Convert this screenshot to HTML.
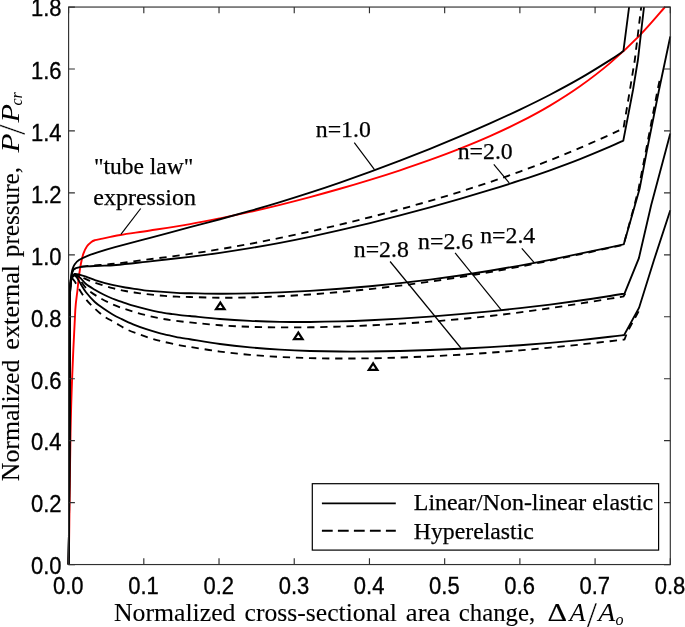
<!DOCTYPE html>
<html><head><meta charset="utf-8"><title>Normalized external pressure vs area change</title>
<style>
html,body{margin:0;padding:0;background:#fff;}
svg{display:block;}
.s{fill:none;stroke:#000;stroke-width:1.85;stroke-linejoin:miter;}
.d{fill:none;stroke:#000;stroke-width:1.85;stroke-dasharray:7.3 5.8;}
.r{fill:none;stroke:#f00;stroke-width:1.9;}
.t{fill:#fff;stroke:#000;stroke-width:2.2;stroke-linejoin:miter;}
.ax{fill:none;stroke:#303030;stroke-width:1.15;}
.ld{fill:none;stroke:#000;stroke-width:1.2;}
.tk text{font-family:"Liberation Sans",sans-serif;font-size:22px;fill:#000;stroke:#000;stroke-width:.3;}
.lb text{font-family:"Liberation Serif",serif;font-size:23.8px;fill:#000;stroke:#000;stroke-width:.25;}
.ti text{font-family:"Liberation Serif",serif;font-size:25.2px;fill:#000;stroke:#000;stroke-width:.12;}
.ti text.it{font-style:italic;stroke:none;}
</style></head>
<body>
<svg width="685" height="627" viewBox="0 0 685 627">
<rect x="0" y="0" width="685" height="627" fill="#fff"/>
<g id="curves">
<path class="r" d="M68.80 564.50 C68.93 553.75 69.32 521.75 69.60 500.00 C69.88 478.25 70.08 454.20 70.50 434.00 C70.92 413.80 71.30 399.47 72.10 378.80 C72.90 358.13 74.40 324.80 75.30 310.00 C75.86 300.87 76.93 295.27 77.50 290.00 C78.07 284.73 78.13 282.77 78.70 278.40 C79.27 274.03 80.12 267.93 80.90 263.80 C81.68 259.67 82.38 256.52 83.40 253.60 C84.42 250.68 85.67 248.25 87.00 246.30 C88.33 244.35 90.07 242.92 91.40 241.90 C92.73 240.88 93.40 240.70 95.00 240.20 C96.60 239.70 98.27 239.46 101.00 238.90 C105.22 238.03 112.12 236.40 120.30 235.00 C128.48 233.60 138.48 232.32 150.10 230.50 C161.72 228.68 178.35 226.13 190.00 224.10 C201.65 222.08 210.00 220.37 220.00 218.33 C230.00 216.30 240.00 214.15 250.00 211.90 C260.00 209.65 270.00 207.28 280.00 204.81 C290.00 202.34 300.00 199.75 310.00 197.08 C320.00 194.41 330.00 191.65 340.00 188.78 C350.00 185.91 360.00 182.94 370.00 179.86 C380.00 176.78 390.00 173.61 400.00 170.29 C410.00 166.97 420.00 163.56 430.00 159.96 C440.00 156.35 450.00 152.64 460.00 148.67 C470.00 144.70 480.00 140.59 490.00 136.14 C500.00 131.69 510.00 127.06 520.00 121.96 C530.00 116.87 540.00 111.53 550.00 105.58 C560.00 99.63 570.00 93.33 580.00 86.26 C590.00 79.18 600.00 71.65 610.00 63.12 C620.00 54.59 630.83 44.42 640.00 35.07 C649.17 25.72 660.83 11.68 665.00 7.00"/>
<path class="s" d="M68.60 564.50 C68.67 558.25 68.89 541.08 69.00 527.00 C69.11 512.92 69.15 501.17 69.25 480.00 C69.35 458.83 69.49 431.17 69.60 400.00 C69.71 368.83 69.68 313.27 69.90 293.00 C69.97 286.35 70.48 282.30 70.90 278.40 C71.32 274.50 71.78 271.92 72.40 269.60 C73.02 267.28 73.50 266.08 74.60 264.50 C75.70 262.92 76.93 261.50 79.00 260.10 C81.07 258.70 83.92 257.38 87.00 256.10 C90.08 254.82 92.83 253.88 97.50 252.40 C102.17 250.92 107.00 249.41 115.00 247.20 C123.77 244.78 137.60 241.24 150.10 237.90 C162.60 234.56 178.35 230.29 190.00 227.19 C201.65 224.08 210.00 221.96 220.00 219.25 C230.00 216.54 240.00 213.79 250.00 210.92 C260.00 208.06 270.00 205.12 280.00 202.07 C290.00 199.02 300.00 195.88 310.00 192.62 C320.00 189.36 330.00 185.98 340.00 182.52 C350.00 179.05 360.00 175.48 370.00 171.83 C380.00 168.17 390.00 164.42 400.00 160.57 C410.00 156.73 420.00 152.80 430.00 148.77 C440.00 144.75 450.00 140.63 460.00 136.40 C470.00 132.17 480.00 127.85 490.00 123.38 C500.00 118.91 510.00 114.35 520.00 109.58 C530.00 104.80 540.00 99.93 550.00 94.73 C560.00 89.54 570.00 84.19 580.00 78.42 C590.00 72.65 602.77 64.66 610.00 60.11 C616.21 56.20 621.17 52.60 623.40 51.10 L629.10 7.00"/>
<path class="s" d="M68.60 564.50 C68.67 558.25 68.89 541.08 69.00 527.00 C69.11 512.92 69.15 501.17 69.25 480.00 C69.35 458.83 69.49 430.00 69.60 400.00 C69.71 370.00 69.73 319.67 69.90 300.00 C69.97 291.81 70.28 286.33 70.60 282.00 C70.87 278.33 71.35 276.00 71.80 274.00 C72.23 272.11 72.60 270.97 73.30 270.00 C74.00 269.03 74.88 268.68 76.00 268.20 C77.12 267.72 78.14 267.39 80.00 267.10 C82.00 266.78 84.67 266.52 88.00 266.30 C91.33 266.08 95.33 266.02 100.00 265.80 C104.67 265.58 108.75 265.65 116.00 265.00 C124.35 264.25 137.77 262.66 150.10 261.30 C162.43 259.94 178.35 258.24 190.00 256.82 C201.65 255.41 210.00 254.26 220.00 252.82 C230.00 251.37 240.00 249.82 250.00 248.15 C260.00 246.48 270.00 244.70 280.00 242.81 C290.00 240.92 300.00 238.92 310.00 236.83 C320.00 234.73 330.00 232.51 340.00 230.22 C350.00 227.94 360.00 225.55 370.00 223.09 C380.00 220.63 390.00 218.08 400.00 215.47 C410.00 212.86 420.00 210.17 430.00 207.41 C440.00 204.66 450.00 201.83 460.00 198.93 C470.00 196.02 480.00 193.05 490.00 189.98 C500.00 186.90 510.00 183.76 520.00 180.47 C530.00 177.19 540.00 173.82 550.00 170.26 C560.00 166.69 570.00 163.03 580.00 159.09 C590.00 155.16 602.78 149.72 610.00 146.64 C616.11 144.03 621.08 141.61 623.30 140.60 L633.00 90.00 L637.90 60.00 L644.00 7.00"/>
<path class="s" d="M68.60 564.50 C68.67 558.25 68.89 541.08 69.00 527.00 C69.11 512.92 69.15 501.17 69.25 480.00 C69.35 458.83 69.49 430.00 69.60 400.00 C69.71 370.00 69.73 319.33 69.90 300.00 C69.96 292.72 70.25 287.83 70.60 284.00 C70.90 280.77 71.33 278.67 72.00 277.00 C72.67 275.33 73.27 274.37 74.60 274.00 C75.93 273.63 78.10 274.37 80.00 274.80 C81.90 275.23 83.31 275.67 86.00 276.60 C89.18 277.70 94.72 280.02 99.10 281.40 C103.48 282.78 107.92 283.88 112.30 284.90 C116.68 285.92 121.03 286.75 125.40 287.50 C129.77 288.25 135.02 288.88 138.50 289.40 C141.98 289.92 142.73 290.28 146.30 290.60 C153.22 291.22 172.72 292.66 180.00 293.10 C184.54 293.37 185.45 293.17 190.00 293.24 C196.67 293.35 210.00 293.73 220.00 293.76 C230.00 293.79 240.00 293.65 250.00 293.43 C260.00 293.21 270.00 292.86 280.00 292.43 C290.00 292.01 300.00 291.49 310.00 290.88 C320.00 290.27 330.00 289.57 340.00 288.79 C350.00 288.01 360.00 287.16 370.00 286.22 C380.00 285.28 390.00 284.26 400.00 283.16 C410.00 282.05 420.00 280.86 430.00 279.58 C440.00 278.29 450.00 276.92 460.00 275.46 C470.00 273.99 480.00 272.42 490.00 270.78 C500.00 269.13 510.00 267.38 520.00 265.56 C530.00 263.74 540.00 261.82 550.00 259.85 C560.00 257.87 570.00 255.80 580.00 253.71 C590.00 251.61 602.70 248.86 610.00 247.29 C616.28 245.94 621.50 244.80 623.80 244.30 L635.00 205.00 L639.60 188.80 L647.00 150.00 L659.00 90.00 L670.30 36.50"/>
<path class="s" d="M68.60 564.50 C68.67 558.25 68.89 541.08 69.00 527.00 C69.11 512.92 69.15 501.17 69.25 480.00 C69.35 458.83 69.49 430.00 69.60 400.00 C69.71 370.00 69.73 319.33 69.90 300.00 C69.96 292.72 70.25 287.83 70.60 284.00 C70.90 280.77 71.27 278.58 72.00 277.00 C72.73 275.42 73.67 274.40 75.00 274.50 C76.33 274.60 78.17 276.02 80.00 277.60 C81.83 279.18 83.53 281.98 86.00 284.00 C88.47 286.02 91.88 287.95 94.80 289.70 C97.72 291.45 100.58 293.03 103.50 294.50 C106.42 295.97 109.38 297.32 112.30 298.50 C115.22 299.68 117.53 300.42 121.00 301.60 C124.47 302.78 128.88 304.33 133.10 305.60 C137.32 306.87 141.92 308.12 146.30 309.20 C150.68 310.28 155.03 311.28 159.40 312.10 C163.77 312.92 169.07 313.60 172.50 314.10 C175.90 314.60 177.08 314.78 180.00 315.10 C182.92 315.42 185.46 315.59 190.00 316.04 C196.67 316.68 210.00 318.19 220.00 318.99 C230.00 319.80 240.00 320.40 250.00 320.87 C260.00 321.34 270.00 321.63 280.00 321.81 C290.00 321.99 300.00 322.03 310.00 321.96 C320.00 321.89 330.00 321.69 340.00 321.41 C350.00 321.13 360.00 320.74 370.00 320.28 C380.00 319.82 390.00 319.27 400.00 318.66 C410.00 318.04 420.00 317.35 430.00 316.60 C440.00 315.85 450.00 315.03 460.00 314.15 C470.00 313.27 480.00 312.33 490.00 311.33 C500.00 310.33 510.00 309.27 520.00 308.14 C530.00 307.01 540.00 305.82 550.00 304.55 C560.00 303.28 570.00 301.96 580.00 300.53 C590.00 299.10 602.58 297.15 610.00 296.00 C616.60 294.97 622.08 294.00 624.50 293.60 L638.90 258.10 L651.20 205.00 L665.90 150.00 L670.30 133.40"/>
<path class="s" d="M68.60 564.50 C68.67 558.25 68.89 541.08 69.00 527.00 C69.11 512.92 69.15 501.17 69.25 480.00 C69.35 458.83 69.49 430.00 69.60 400.00 C69.71 370.00 69.73 319.33 69.90 300.00 C69.96 292.72 70.25 287.83 70.60 284.00 C70.90 280.77 71.35 278.50 72.00 277.00 C72.58 275.66 73.58 274.77 74.50 275.00 C75.42 275.23 76.42 276.82 77.50 278.40 C78.58 279.98 79.58 282.18 81.00 284.50 C82.42 286.82 83.70 289.38 86.00 292.30 C88.30 295.22 91.88 299.30 94.80 302.00 C97.72 304.70 100.58 306.47 103.50 308.50 C106.42 310.53 109.47 312.53 112.30 314.20 C115.13 315.87 117.03 316.80 120.50 318.50 C123.97 320.20 128.80 322.62 133.10 324.40 C137.40 326.18 141.92 327.75 146.30 329.20 C150.68 330.65 155.03 331.95 159.40 333.10 C163.77 334.25 169.07 335.33 172.50 336.10 C175.90 336.86 177.08 337.17 180.00 337.70 C182.92 338.23 185.45 338.56 190.00 339.27 C196.67 340.33 210.00 342.66 220.00 344.02 C230.00 345.37 240.00 346.45 250.00 347.39 C260.00 348.33 270.00 349.04 280.00 349.64 C290.00 350.23 300.00 350.65 310.00 350.96 C320.00 351.28 330.00 351.44 340.00 351.52 C350.00 351.61 360.00 351.57 370.00 351.48 C380.00 351.39 390.00 351.20 400.00 350.96 C410.00 350.72 420.00 350.40 430.00 350.03 C440.00 349.67 450.00 349.24 460.00 348.76 C470.00 348.29 480.00 347.76 490.00 347.17 C500.00 346.58 510.00 345.93 520.00 345.22 C530.00 344.51 540.00 343.74 550.00 342.88 C560.00 342.03 570.00 341.12 580.00 340.11 C590.00 339.09 602.63 337.64 610.00 336.79 C616.46 336.05 621.83 335.30 624.20 335.00 L639.10 307.70 L654.00 260.00 L670.30 210.30"/>
<path class="d" d="M69.90 300.00 C70.02 297.00 70.28 286.33 70.60 282.00 C70.87 278.33 71.35 276.03 71.80 274.00 C72.24 272.02 72.60 270.80 73.30 269.80 C74.00 268.80 74.88 268.48 76.00 268.00 C77.12 267.52 78.14 267.23 80.00 266.90 C82.00 266.55 84.67 266.22 88.00 265.90 C91.33 265.58 95.33 265.38 100.00 265.00 C104.67 264.62 108.75 264.44 116.00 263.60 C124.35 262.63 137.77 260.81 150.10 259.20 C162.43 257.59 178.35 255.59 190.00 253.92 C201.65 252.25 210.00 250.87 220.00 249.19 C230.00 247.51 240.00 245.71 250.00 243.83 C260.00 241.95 270.00 239.98 280.00 237.93 C290.00 235.88 300.00 233.74 310.00 231.53 C320.00 229.31 330.00 227.00 340.00 224.62 C350.00 222.24 360.00 219.78 370.00 217.23 C380.00 214.68 390.00 212.06 400.00 209.33 C410.00 206.61 420.00 203.80 430.00 200.89 C440.00 197.97 450.00 194.96 460.00 191.82 C470.00 188.69 480.00 185.45 490.00 182.08 C500.00 178.70 510.00 175.21 520.00 171.56 C530.00 167.92 540.00 164.15 550.00 160.21 C560.00 156.26 570.00 152.18 580.00 147.92 C590.00 143.66 602.75 137.90 610.00 134.63 C616.18 131.84 621.25 129.35 623.50 128.30 L629.90 90.00 L634.80 60.00 L641.20 7.00" stroke-dasharray="10 5.3"/>
<path class="d" d="M72.00 277.50 C72.43 277.08 73.27 275.17 74.60 275.00 C75.93 274.83 77.67 275.62 80.00 276.50 C82.33 277.38 85.27 278.98 88.60 280.30 C91.93 281.62 95.98 283.10 100.00 284.40 C104.02 285.70 108.47 287.00 112.70 288.10 C116.93 289.20 121.12 290.17 125.40 291.00 C129.68 291.83 134.05 292.50 138.40 293.10 C142.75 293.70 147.12 294.13 151.50 294.60 C155.88 295.07 160.47 295.55 164.70 295.90 C168.93 296.25 172.68 296.51 176.90 296.70 C181.12 296.89 184.05 296.88 190.00 297.02 C197.18 297.19 210.00 297.67 220.00 297.74 C230.00 297.80 240.00 297.66 250.00 297.41 C260.00 297.17 270.00 296.76 280.00 296.27 C290.00 295.79 300.00 295.19 310.00 294.48 C320.00 293.78 330.00 292.93 340.00 292.03 C350.00 291.13 360.00 290.13 370.00 289.06 C380.00 287.99 390.00 286.83 400.00 285.59 C410.00 284.35 420.00 283.03 430.00 281.62 C440.00 280.20 450.00 278.70 460.00 277.11 C470.00 275.52 480.00 273.84 490.00 272.08 C500.00 270.32 510.00 268.47 520.00 266.56 C530.00 264.65 540.00 262.65 550.00 260.60 C560.00 258.56 570.00 256.42 580.00 254.28 C590.00 252.14 602.73 249.34 610.00 247.76 C616.18 246.42 621.33 245.29 623.60 244.80 L634.50 205.00 L638.60 188.80 L645.50 153.00 L657.60 90.00 L660.50 76.00"/>
<path class="d" d="M72.00 277.50 C72.50 277.17 73.67 275.05 75.00 275.50 C76.33 275.95 77.95 277.90 80.00 280.20 C82.05 282.50 84.33 286.55 87.30 289.30 C90.27 292.05 94.15 294.45 97.80 296.70 C101.45 298.95 105.23 300.93 109.20 302.80 C113.17 304.67 117.47 306.38 121.60 307.90 C125.73 309.42 129.82 310.65 134.00 311.90 C138.18 313.15 142.47 314.35 146.70 315.40 C150.93 316.45 155.10 317.37 159.40 318.20 C163.70 319.03 167.40 319.70 172.50 320.40 C177.60 321.10 182.08 321.58 190.00 322.40 C197.92 323.21 210.00 324.53 220.00 325.26 C230.00 326.00 240.00 326.45 250.00 326.80 C260.00 327.15 270.00 327.30 280.00 327.39 C290.00 327.47 300.00 327.43 310.00 327.29 C320.00 327.15 330.00 326.87 340.00 326.55 C350.00 326.23 360.00 325.84 370.00 325.37 C380.00 324.90 390.00 324.37 400.00 323.75 C410.00 323.14 420.00 322.46 430.00 321.68 C440.00 320.91 450.00 320.06 460.00 319.11 C470.00 318.16 480.00 317.13 490.00 316.00 C500.00 314.87 510.00 313.65 520.00 312.34 C530.00 311.03 540.00 309.62 550.00 308.15 C560.00 306.69 570.00 305.12 580.00 303.54 C590.00 301.96 602.75 299.86 610.00 298.69 C616.14 297.70 621.25 296.86 623.50 296.50 L626.00 292.00"/>
<path class="d" d="M72.00 278.00 C72.43 278.55 73.57 279.69 74.60 281.30 C75.93 283.38 78.10 287.50 80.00 290.50 C81.90 293.50 83.77 296.52 86.00 299.30 C88.23 302.08 90.48 304.42 93.40 307.20 C96.32 309.98 99.92 313.45 103.50 316.00 C107.08 318.55 111.13 320.32 114.90 322.50 C118.67 324.68 122.18 327.18 126.10 329.10 C130.02 331.02 134.32 332.48 138.40 334.00 C142.48 335.52 146.45 336.92 150.60 338.20 C154.75 339.48 158.40 340.52 163.30 341.70 C168.20 342.88 175.55 344.43 180.00 345.30 C184.45 346.17 185.45 346.20 190.00 346.91 C196.67 347.96 210.00 350.26 220.00 351.58 C230.00 352.90 240.00 353.94 250.00 354.83 C260.00 355.73 270.00 356.40 280.00 356.95 C290.00 357.50 300.00 357.87 310.00 358.14 C320.00 358.40 330.00 358.50 340.00 358.53 C350.00 358.56 360.00 358.47 370.00 358.30 C380.00 358.14 390.00 357.87 400.00 357.55 C410.00 357.22 420.00 356.81 430.00 356.33 C440.00 355.86 450.00 355.31 460.00 354.71 C470.00 354.10 480.00 353.43 490.00 352.70 C500.00 351.97 510.00 351.18 520.00 350.33 C530.00 349.48 540.00 348.57 550.00 347.61 C560.00 346.65 570.00 345.63 580.00 344.57 C590.00 343.50 602.58 342.06 610.00 341.22 C616.59 340.47 622.08 339.79 624.50 339.50 L627.50 331.50 L640.20 308.50"/>
</g>
<g id="markers"><path class="t" d="M220.30 302.60L216.00 309.20L224.60 309.20Z"/><path class="t" d="M298.30 332.60L294.00 339.20L302.60 339.20Z"/><path class="t" d="M373.10 363.30L368.80 369.80L377.40 369.80Z"/></g>
<rect class="ax" x="68.6" y="7.05" width="601.70" height="557.50"/>
<path class="ax" d="M68.60 564.55v-6.30M68.60 7.05v6.30M143.81 564.55v-6.30M143.81 7.05v6.30M219.02 564.55v-6.30M219.02 7.05v6.30M294.24 564.55v-6.30M294.24 7.05v6.30M369.45 564.55v-6.30M369.45 7.05v6.30M444.66 564.55v-6.30M444.66 7.05v6.30M519.88 564.55v-6.30M519.88 7.05v6.30M595.09 564.55v-6.30M595.09 7.05v6.30M670.30 564.55v-6.30M670.30 7.05v6.30M68.60 564.55h6.30M670.30 564.55h-6.30M68.60 502.61h6.30M670.30 502.61h-6.30M68.60 440.66h6.30M670.30 440.66h-6.30M68.60 378.72h6.30M670.30 378.72h-6.30M68.60 316.77h6.30M670.30 316.77h-6.30M68.60 254.83h6.30M670.30 254.83h-6.30M68.60 192.88h6.30M670.30 192.88h-6.30M68.60 130.94h6.30M670.30 130.94h-6.30M68.60 68.99h6.30M670.30 68.99h-6.30M68.60 7.05h6.30M670.30 7.05h-6.30"/>
<g class="tk"><text transform="translate(68.30 594.3) scale(1 1.05)" text-anchor="middle">0.0</text><text transform="translate(143.51 594.3) scale(1 1.05)" text-anchor="middle">0.1</text><text transform="translate(218.72 594.3) scale(1 1.05)" text-anchor="middle">0.2</text><text transform="translate(293.94 594.3) scale(1 1.05)" text-anchor="middle">0.3</text><text transform="translate(369.15 594.3) scale(1 1.05)" text-anchor="middle">0.4</text><text transform="translate(444.36 594.3) scale(1 1.05)" text-anchor="middle">0.5</text><text transform="translate(519.58 594.3) scale(1 1.05)" text-anchor="middle">0.6</text><text transform="translate(594.79 594.3) scale(1 1.05)" text-anchor="middle">0.7</text><text transform="translate(670.00 594.3) scale(1 1.05)" text-anchor="middle">0.8</text><text transform="translate(61.6 574.35) scale(1 1.05)" text-anchor="end">0.0</text><text transform="translate(61.6 512.41) scale(1 1.05)" text-anchor="end">0.2</text><text transform="translate(61.6 450.46) scale(1 1.05)" text-anchor="end">0.4</text><text transform="translate(61.6 388.52) scale(1 1.05)" text-anchor="end">0.6</text><text transform="translate(61.6 326.57) scale(1 1.05)" text-anchor="end">0.8</text><text transform="translate(61.6 264.63) scale(1 1.05)" text-anchor="end">1.0</text><text transform="translate(61.6 202.68) scale(1 1.05)" text-anchor="end">1.2</text><text transform="translate(61.6 140.74) scale(1 1.05)" text-anchor="end">1.4</text><text transform="translate(61.6 78.79) scale(1 1.05)" text-anchor="end">1.6</text><text transform="translate(61.6 16.25) scale(1 1.05)" text-anchor="end">1.8</text></g>
<g id="leaders" class="ld">
<path d="M140.7 208.5L120.9 234.4"/>
<path d="M354.3 142.6L374.5 169.6"/>
<path d="M493.8 164.3L509.2 182.9"/>
<path d="M390.1 261.5L460.9 348"/>
<path d="M455.1 252.9L501.2 309.8"/>
<path d="M521.8 248.4L534.2 262.6"/>
</g>
<g class="lb">
<text x="93.9" y="174.3" textLength="99.5" lengthAdjust="spacingAndGlyphs">"tube law"</text>
<text x="93.3" y="204.8" textLength="102.6" lengthAdjust="spacingAndGlyphs">expression</text>
<text x="315.8" y="137.3">n=1.0</text>
<text x="457.7" y="159.1">n=2.0</text>
<text x="353.8" y="256.9">n=2.8</text>
<text x="418.1" y="248.5">n=2.6</text>
<text x="480.2" y="242.5">n=2.4</text>
</g>
<g id="legend">
<rect x="312.3" y="483.7" width="346.3" height="66.4" fill="#fff" stroke="#000" stroke-width="1.2"/>
<path class="s" d="M321.9 503.3H395.8"/>
<path class="s" d="M321.9 530.7H395.8" stroke-dasharray="10.8 5.2"/>
<g class="lb">
<text x="413.8" y="509.5" textLength="239.4" lengthAdjust="spacingAndGlyphs">Linear/Non-linear elastic</text>
<text x="413.8" y="539.1" textLength="120" lengthAdjust="spacingAndGlyphs">Hyperelastic</text>
</g>
</g>
<g class="ti">
<text x="113.9" y="621.3" textLength="121.6" lengthAdjust="spacingAndGlyphs">Normalized</text>
<text x="244.6" y="621.3" textLength="152.4" lengthAdjust="spacingAndGlyphs">cross-sectional</text>
<text x="405.8" y="621.3" textLength="44.5" lengthAdjust="spacingAndGlyphs">area</text>
<text x="458.8" y="621.3" textLength="76.4" lengthAdjust="spacingAndGlyphs">change,</text>
<text x="547.6" y="621.3" textLength="19.6" lengthAdjust="spacingAndGlyphs">Δ</text>
<text class="it" x="569.6" y="621.3" textLength="16" lengthAdjust="spacingAndGlyphs">A</text>
<text x="586.4" y="628" style="font-size:38px;stroke:#fff;stroke-width:.3">/</text>
<text class="it" x="598.2" y="621.3" textLength="17" lengthAdjust="spacingAndGlyphs">A</text>
<text class="it" x="615.6" y="624.6" style="font-size:16px">o</text>
<g transform="translate(18.7 0) rotate(-90)">
<text x="-481.2" y="0" textLength="121.6" lengthAdjust="spacingAndGlyphs">Normalized</text>
<text x="-349.8" y="0" textLength="85" lengthAdjust="spacingAndGlyphs">external</text>
<text x="-257.2" y="0" textLength="90.3" lengthAdjust="spacingAndGlyphs">pressure,</text>
<text class="it" x="-152.4" y="0" textLength="19" lengthAdjust="spacingAndGlyphs">P</text>
<text x="-135.0" y="6.5" style="font-size:38px;stroke:#fff;stroke-width:.3">/</text>
<text class="it" x="-122.6" y="0" textLength="18.5" lengthAdjust="spacingAndGlyphs">P</text>
<text class="it" x="-105.6" y="3.6" style="font-size:16px">cr</text>
</g>
</g>
</svg>
</body></html>
